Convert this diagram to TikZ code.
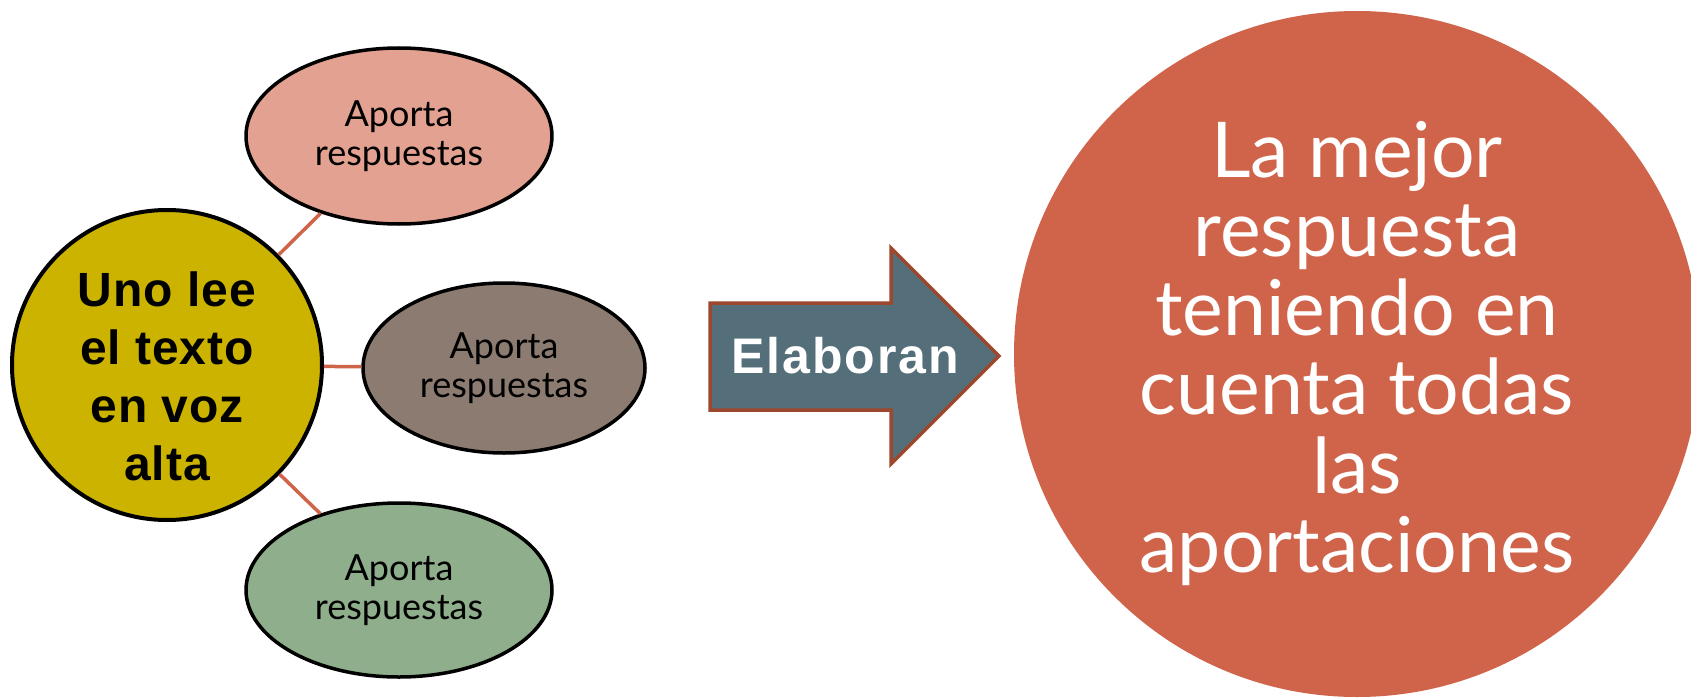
\documentclass[tikz,border=0pt]{standalone}
\usepackage{fontspec}
\setmainfont{Liberation Sans}
\newfontfamily\lightfont{Lato}
\usetikzlibrary{shapes.geometric}

\definecolor{mustard}{HTML}{CBB300}
\definecolor{salmon}{HTML}{E3A191}
\definecolor{taupe}{HTML}{8C7B70}
\definecolor{sage}{HTML}{8FAE8B}
\definecolor{slate}{HTML}{546E7A}
\definecolor{rust}{HTML}{9E472F}
\definecolor{brick}{HTML}{D0644B}

\begin{document}
\begin{tikzpicture}[x=1pt,y=-1pt,
	idea/.style={shape=ellipse, draw=black, line width=3.5pt, inner sep=0pt, align=center, font=\lightfont\fontsize{36}{39}\selectfont},
	link/.style={draw=brick, line width=3.5pt}]
	\clip (0,0) rectangle (1691,698);
	
	\node[shape=circle, draw=black, line width=4pt, fill=mustard, minimum size=310pt, inner sep=0pt, align=center, font=\bfseries\fontsize{48}{58}\selectfont\addfontfeatures{LetterSpace=2}](uno) at (167,365) {\rule{0pt}{58pt}Uno lee\\el texto\\en voz\\alta};
	
	\node[idea, fill=salmon, minimum width=306pt, minimum height=176pt](top) at (399,136) {Aporta\\respuestas};
	\node[idea, fill=taupe, minimum width=282pt, minimum height=170pt](mid) at (504,368) {Aporta\\respuestas};
	\node[idea, fill=sage, minimum width=306pt, minimum height=174pt](bot) at (399,590) {Aporta\\respuestas};
	
	\draw[link] (uno) -- (top);
	\draw[link] (uno) -- (mid);
	\draw[link] (uno) -- (bot);
	
	% flecha
	\draw[fill=slate, draw=rust, line width=3.5pt] (710,303) -- (891,303) -- (891,248) -- (999,356) -- (891,464) -- (891,410) -- (710,410) -- cycle;
	\node[text=white, font=\bfseries\fontsize{50}{50}\selectfont\addfontfeatures{LetterSpace=4}](elab) at (845,356) {Elaboran};
	
	\node[shape=circle, fill=brick, minimum size=686pt, inner sep=0pt, align=center, text=white, font=\lightfont\fontsize{77}{79}\selectfont](mejor) at (1357,354) {La mejor\\respuesta\\teniendo en\\cuenta todas\\las\\aportaciones};
\end{tikzpicture}
\end{document}
